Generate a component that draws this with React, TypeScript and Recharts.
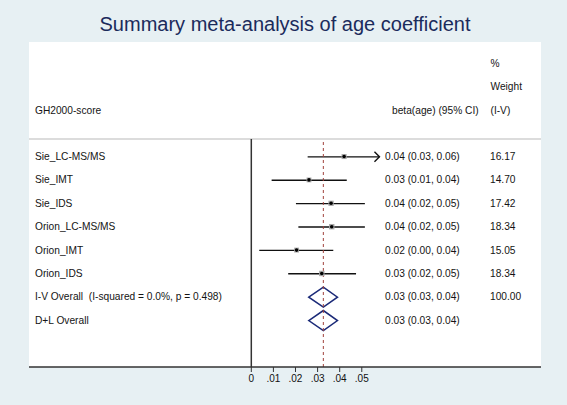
import React from "react";
import { ComposedChart, Bar, Scatter, XAxis, YAxis, ReferenceLine } from "recharts";

// ---- data ----
const studies = ["Sie_LC-MS/MS", "Sie_IMT", "Sie_IDS", "Orion_LC-MS/MS", "Orion_IMT", "Orion_IDS"];
const estimates = [0.042, 0.0261, 0.0361, 0.0364, 0.0205, 0.0319];
const ciLower = [0.0255, 0.0092, 0.0202, 0.0213, 0.0036, 0.0167];
const ciUpper = [0.06, 0.0432, 0.0514, 0.0514, 0.0371, 0.0474];
const weights = [16.17, 14.7, 17.42, 18.34, 15.05, 18.34];
const effectLabels = [
  "0.04 (0.03, 0.06)",
  "0.03 (0.01, 0.04)",
  "0.04 (0.02, 0.05)",
  "0.04 (0.02, 0.05)",
  "0.02 (0.00, 0.04)",
  "0.03 (0.02, 0.05)",
];
const weightLabels = ["16.17", "14.70", "17.42", "18.34", "15.05", "18.34"];

const overallNames = ["I-V Overall  (I-squared = 0.0%, p = 0.498)", "D+L Overall"];
const overallEst = [0.0326, 0.0326];
const overallLower = [0.026, 0.026];
const overallUpper = [0.039, 0.039];
const overallEffectLabels = ["0.03 (0.03, 0.04)", "0.03 (0.03, 0.04)"];
const overallWeightLabels = ["100.00", ""];

const xTicks = [0, 0.01, 0.02, 0.03, 0.04, 0.05];
const xDomain = [-0.1006, 0.1311];
const ciDisplayMax = 0.058;
const pooledLine = 0.0326;

const titleText = "Summary meta-analysis of age coefficient";
const headerStudy = "GH2000-score";
const headerEffect = "beta(age) (95% CI)";
const headerWeight = ["%", "Weight", "(I-V)"];

type Row = {
  row: number;
  kind: "study" | "overall";
  label: string;
  est: number;
  lo: number;
  hi: number;
  range: [number, number];
  clipped: boolean;
  weight: number;
  effect: string;
  wlabel: string;
};

const rows: Row[] = [
  ...studies.map((s, i) => ({
    row: i + 1,
    kind: "study" as const,
    label: s,
    est: estimates[i],
    lo: ciLower[i],
    hi: ciUpper[i],
    range: [ciLower[i], Math.min(ciUpper[i], ciDisplayMax)] as [number, number],
    clipped: ciUpper[i] > ciDisplayMax,
    weight: weights[i],
    effect: effectLabels[i],
    wlabel: weightLabels[i],
  })),
  ...overallNames.map((s, i) => ({
    row: studies.length + i + 1,
    kind: "overall" as const,
    label: s,
    est: overallEst[i],
    lo: overallLower[i],
    hi: overallUpper[i],
    range: [overallLower[i], overallUpper[i]] as [number, number],
    clipped: false,
    weight: 0,
    effect: overallEffectLabels[i],
    wlabel: overallWeightLabels[i],
  })),
];

const FONT = '"Liberation Sans", Arial, sans-serif';
const TXT = "#141414";

const RowTick = (props: any) => {
  const { y, payload } = props;
  const r = rows.find((d) => d.row === payload.value);
  if (!r) return null;
  const common = { fontFamily: FONT, fontSize: 10.2, fill: TXT, dy: "0.35em", style: { whiteSpace: "pre" as const } };
  return (
    <g>
      <text x={35} y={y} {...common} xmlSpace="preserve">{r.label}</text>
      <text x={385} y={y} {...common}>{r.effect}</text>
      <text x={490} y={y} {...common}>{r.wlabel}</text>
    </g>
  );
};

const RangeShape = (props: any) => {
  const { x, y, width, height, payload } = props;
  if (x == null || width == null) return null;
  const cy = y + height / 2;
  if (payload.kind === "study") {
    const x2 = x + width;
    return (
      <g>
        <line x1={x} y1={cy} x2={x2} y2={cy} stroke="#111" strokeWidth={1.4} />
        {payload.clipped && (
          <polyline
            points={`${x2 - 5},${cy - 5} ${x2},${cy} ${x2 - 5},${cy + 5}`}
            fill="none"
            stroke="#111"
            strokeWidth={1.4}
          />
        )}
      </g>
    );
  }
  const cx = x + (width * (payload.est - payload.lo)) / (payload.hi - payload.lo);
  const h = 10;
  return (
    <polygon
      points={`${x},${cy} ${cx},${cy - h} ${x + width},${cy} ${cx},${cy + h}`}
      fill="none"
      stroke="#1b2a78"
      strokeWidth={1.5}
    />
  );
};

const PointShape = (props: any) => {
  const { cx, cy, payload } = props;
  if (!payload || payload.kind !== "study") return null;
  const s = 5.4 * Math.sqrt(payload.weight / 18.34);
  return (
    <g>
      <rect x={cx - s / 2} y={cy - s / 2} width={s} height={s} fill="#a8a8a8" />
      <circle cx={cx} cy={cy} r={1.8} fill="#000" />
    </g>
  );
};

const fmtTick = (v: number) => (v === 0 ? "0" : v.toFixed(2).replace(/^0/, ""));

export default function App() {
  return (
    <div
      style={{
        position: "fixed",
        left: 0,
        top: 0,
        width: 567,
        height: 405,
        background: "#e7f0f3",
        overflow: "hidden",
        fontFamily: FONT,
      }}
    >
      <div style={{ position: "absolute", left: 29, top: 42, width: 512, height: 325, background: "#fff" }} />
      <svg width={567} height={405} style={{ position: "absolute", left: 0, top: 0 }}>
        <text x={285} y={31} textAnchor="middle" fontFamily={FONT} fontSize={20} fill="#1b2b5c">
          {titleText}
        </text>
        <text x={35} y={110} dy="0.35em" fontFamily={FONT} fontSize={10.2} fill={TXT}>{headerStudy}</text>
        <text x={392} y={110.7} dy="0.35em" fontFamily={FONT} fontSize={10.2} fill={TXT}>{headerEffect}</text>
        {headerWeight.map((t, i) => (
          <text key={t} x={490.5} y={63 + i * 23.8} dy="0.35em" fontFamily={FONT} fontSize={10.2} fill={TXT}>
            {t}
          </text>
        ))}
      </svg>
      <div style={{ position: "absolute", left: 0, top: 0 }}>
        <ComposedChart
          width={567}
          height={405}
          data={rows}
          layout="vertical"
          margin={{ top: 139, right: 26, bottom: 0, left: 25 }}
          style={{ background: "transparent" }}
        >
          <XAxis
            type="number"
            domain={xDomain}
            allowDataOverflow
            ticks={xTicks}
            tickFormatter={fmtTick}
            height={38}
            axisLine={{ stroke: "#333", strokeWidth: 1.3 }}
            tickLine={{ stroke: "#333" }}
            tickSize={5}
            tickMargin={3}
            tick={{ fontSize: 10, fill: "#111", fontFamily: FONT }}
            interval={0}
          />
          <YAxis
            type="number"
            dataKey="row"
            domain={[0.25, 10]}
            allowDataOverflow
            ticks={rows.map((r) => r.row)}
            interval={0}
            width={4}
            axisLine={false}
            tickLine={false}
            tick={<RowTick />}
          />
          <ReferenceLine y={0.25} stroke="#dcdcdc" strokeWidth={2} />
          <ReferenceLine x={0} stroke="#333" strokeWidth={1.5} />
          <ReferenceLine x={pooledLine} stroke="#a0413c" strokeWidth={1} strokeDasharray="3 3" />
          <Bar
            dataKey={(d: Row) => d.range}
            barSize={20}
            shape={<RangeShape />}
            isAnimationActive={false}
          />
          <Scatter dataKey="est" shape={<PointShape />} isAnimationActive={false} />
        </ComposedChart>
      </div>
    </div>
  );
}
